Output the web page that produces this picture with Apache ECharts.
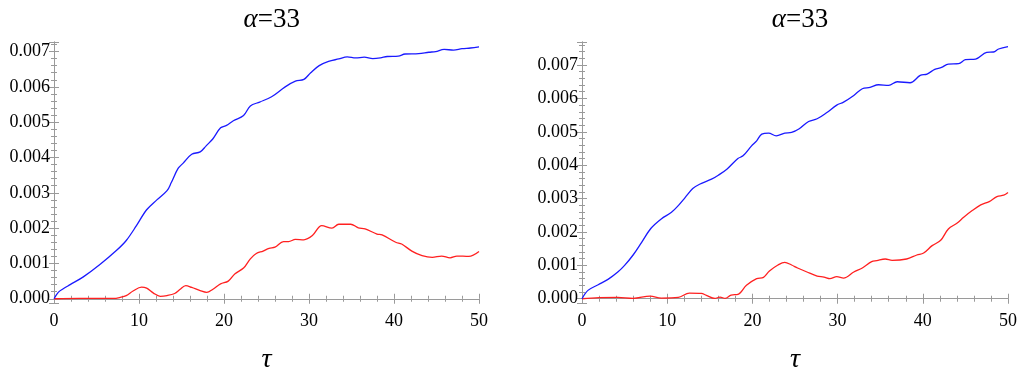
<!DOCTYPE html>
<html>
<head>
<meta charset="utf-8">
<script src="https://cdn.jsdelivr.net/npm/echarts@6/dist/echarts.min.js"></script>
<style>
html,body{margin:0;padding:0;background:#fff;}
#chart{width:1024px;height:379px;}
</style>
</head>
<body>
<div id="chart"></div>
<script>
// Panel titles and axis name
const panelTitles = ['α=33', 'α=33'];
const xAxisName = 'τ';
const xTicks = [0, 10, 20, 30, 40, 50];
const yTicks = [0.000, 0.001, 0.002, 0.003, 0.004, 0.005, 0.006, 0.007];

// Left panel: [tau, value]
const leftBlue = [[0,0],[0.5,0.00018],[1,0.00027],[1.9,0.00040],[3.45,0.00062],[5.4,0.00097],[7.4,0.00138],[8.5,0.00165],[9.7,0.00207],[10.9,0.00252],[12.1,0.00280],[13.3,0.00306],[13.8,0.00329],[14.6,0.00369],[15.2,0.00384],[16.2,0.00409],[17.2,0.00416],[17.9,0.00433],[18.7,0.00453],[19.6,0.00484],[20.3,0.00491],[21.1,0.00504],[22.3,0.00519],[23.1,0.00546],[24.2,0.00557],[25.6,0.00572],[27.2,0.00600],[28.4,0.00616],[29.4,0.00621],[30.2,0.00640],[31.2,0.00660],[32.3,0.00672],[33.5,0.00679],[34.5,0.00685],[35.5,0.00682],[36.5,0.00684],[37.5,0.00680],[38.4,0.00682],[39.2,0.00686],[40.5,0.00687],[41.3,0.00693],[42.9,0.00694],[44.1,0.00698],[44.9,0.00700],[45.9,0.00706],[47.0,0.00704],[48.0,0.00708],[49.0,0.00710],[50,0.00713]];
const leftRed = [[0,0],[3,0.00001],[5,0.00001],[7,0.00001],[7.8,0.00004],[8.5,0.00009],[9.3,0.00022],[10.3,0.00033],[10.9,0.00030],[11.7,0.00016],[12.5,0.00007],[13.3,0.00009],[14.2,0.00015],[14.8,0.00026],[15.5,0.00037],[16.2,0.00032],[17.2,0.00023],[17.96,0.00018],[18.7,0.00027],[19.6,0.00042],[20.5,0.00050],[21.3,0.00071],[22.3,0.00087],[23.1,0.00113],[23.8,0.00128],[24.6,0.00135],[25.3,0.00143],[26.0,0.00146],[27.0,0.00162],[27.6,0.00162],[28.4,0.00168],[29.4,0.00167],[30.4,0.00179],[31.5,0.00207],[32.7,0.00200],[33.5,0.00211],[34.9,0.00211],[35.8,0.00201],[36.6,0.00198],[38.0,0.00183],[38.6,0.00181],[40.2,0.00160],[40.9,0.00155],[42.1,0.00135],[43.3,0.00122],[44.5,0.00117],[45.6,0.00121],[46.6,0.00116],[47.4,0.00121],[48.8,0.00120],[50,0.00134]];

// Right panel: [tau, value]
const rightBlue = [[0,0],[0.7,0.00025],[1.9,0.00042],[3.05,0.00058],[4.2,0.00080],[5.0,0.00100],[6.0,0.00131],[7.0,0.00169],[8.1,0.00211],[9.3,0.00239],[10.5,0.00259],[11.3,0.00279],[12.1,0.00303],[13.0,0.00330],[13.8,0.00343],[15.2,0.00358],[16.0,0.00370],[17.0,0.00388],[18.3,0.00420],[18.9,0.00428],[19.9,0.00458],[20.5,0.00473],[21.1,0.00493],[21.9,0.00496],[22.8,0.00488],[23.8,0.00496],[24.6,0.00498],[25.5,0.00509],[26.6,0.00531],[27.6,0.00539],[28.7,0.00557],[29.9,0.00580],[30.7,0.00589],[31.9,0.00609],[32.9,0.00629],[33.8,0.00633],[34.8,0.00641],[36.0,0.00639],[37.0,0.00650],[38.5,0.00647],[39.7,0.00669],[40.5,0.00673],[41.4,0.00687],[42.2,0.00693],[43.0,0.00703],[44.2,0.00704],[45.0,0.00716],[46.2,0.00718],[47.5,0.00738],[48.3,0.00739],[48.9,0.00748],[50,0.00755]];
const rightRed = [[0,0],[2,0.00003],[4.2,0.00004],[6,0.00001],[8,0.00008],[9.3,0.00002],[11.3,0.00004],[12.6,0.00017],[14.0,0.00016],[14.6,0.00010],[15.6,0.00001],[16.2,0.00005],[16.8,0.00001],[17.5,0.00011],[18.3,0.00013],[19.3,0.00040],[20.5,0.00060],[21.3,0.00064],[22.0,0.00083],[23.0,0.00101],[23.8,0.00109],[24.6,0.00101],[25.3,0.00092],[26.4,0.00080],[27.6,0.00068],[28.4,0.00065],[29.1,0.00060],[29.9,0.00066],[30.7,0.00062],[31.9,0.00080],[32.9,0.00092],[34.0,0.00111],[34.6,0.00114],[35.6,0.00119],[36.4,0.00115],[38.1,0.00119],[39.3,0.00131],[40.1,0.00137],[41.1,0.00159],[42.1,0.00175],[43.0,0.00209],[44.0,0.00226],[44.8,0.00244],[45.8,0.00264],[46.8,0.00281],[47.8,0.00291],[48.7,0.00306],[49.5,0.00310],[50,0.00318]];

const yRanges = [[-0.00012, 0.00727], [-0.000128, 0.00769]];

const FONT = '"Liberation Serif", "DejaVu Serif", serif';
const FRAME = '#9a9a9a';

const grids = [
  {left: 54, right: 545, top: 42, bottom: 75},
  {left: 582, right: 16, top: 42, bottom: 75}
];

const xAxes = [], yAxes = [], series = [];
[0, 1].forEach(function (g) {
  // bottom x axis
  xAxes.push({
    type: 'value', gridIndex: g, min: xTicks[0], max: xTicks[xTicks.length - 1], interval: 10,
    position: 'bottom',
    name: xAxisName, nameLocation: 'middle', nameGap: 43,
    nameTextStyle: {fontFamily: FONT, fontStyle: 'italic', fontSize: 28, color: '#000'},
    axisLine: {show: true, lineStyle: {color: FRAME, width: 1}},
    axisTick: {show: true, inside: true, length: 5, lineStyle: {color: FRAME}},
    minorTick: {show: true, splitNumber: 5, length: 3, lineStyle: {color: FRAME}},
    axisLabel: {fontFamily: FONT, fontSize: 18, color: '#000', margin: 9},
    splitLine: {show: false}
  });
  // top x axis (frame)
  xAxes.push({
    type: 'value', gridIndex: g, min: xTicks[0], max: xTicks[xTicks.length - 1], interval: 10,
    position: 'top',
    axisLine: {show: true, lineStyle: {color: FRAME, width: 1}},
    axisTick: {show: true, inside: true, length: 5, lineStyle: {color: FRAME}},
    minorTick: {show: true, splitNumber: 5, length: 3, lineStyle: {color: FRAME}},
    axisLabel: {show: false},
    splitLine: {show: false}
  });
  // left y axis
  yAxes.push({
    type: 'value', gridIndex: g, min: yRanges[g][0], max: yRanges[g][1], splitNumber: 7,
    position: 'left',
    axisLine: {show: true, lineStyle: {color: FRAME, width: 1}},
    axisTick: {show: true, inside: true, length: 5, lineStyle: {color: FRAME}},
    minorTick: {show: true, splitNumber: 5, length: 3, lineStyle: {color: FRAME}},
    axisLabel: {fontFamily: FONT, fontSize: 18, color: '#000', margin: 4,
      showMinLabel: false, showMaxLabel: false,
      formatter: function (v) {
        for (let i = 0; i < yTicks.length; i++) {
          if (Math.abs(v - yTicks[i]) < 1e-9) return yTicks[i].toFixed(3);
        }
        return '';
      }},
    splitLine: {show: false}
  });
  // right y axis (frame)
  yAxes.push({
    type: 'value', gridIndex: g, min: yRanges[g][0], max: yRanges[g][1], splitNumber: 7,
    position: 'right',
    axisLine: {show: true, lineStyle: {color: FRAME, width: 1}},
    axisTick: {show: true, inside: true, length: 5, lineStyle: {color: FRAME}},
    minorTick: {show: true, splitNumber: 5, length: 3, lineStyle: {color: FRAME}},
    axisLabel: {show: false},
    splitLine: {show: false}
  });
});

const panelData = [[leftBlue, leftRed], [rightBlue, rightRed]];
const colors = ['#1a1aff', '#ff2020'];
panelData.forEach(function (pair, g) {
  pair.forEach(function (d, k) {
    series.push({
      type: 'line', xAxisIndex: g * 2, yAxisIndex: g * 2, data: d,
      smooth: 0.35, showSymbol: false, silent: true,
      lineStyle: {color: colors[k], width: 1.3},
      z: 3 - k
    });
  });
});

const titles = panelTitles.map(function (t, g) {
  const cx = g === 0 ? 266.7 : 795;
  return {
    text: '{a|α}{b|' + t.slice(1) + '}',
    left: cx, top: 1, textAlign: 'center',
    textStyle: {
      fontWeight: 'normal',
      rich: {
        a: {fontFamily: FONT, fontStyle: 'italic', fontWeight: 'normal', fontSize: 27, color: '#000'},
        b: {fontFamily: FONT, fontWeight: 'normal', fontSize: 27, color: '#000'}
      }
    }
  };
});

const chart = echarts.init(document.getElementById('chart'), null, {renderer: 'canvas'});
chart.setOption({
  animation: false,
  backgroundColor: '#fff',
  title: titles,
  grid: grids,
  xAxis: xAxes,
  yAxis: yAxes,
  series: series
});
</script>
</body>
</html>
